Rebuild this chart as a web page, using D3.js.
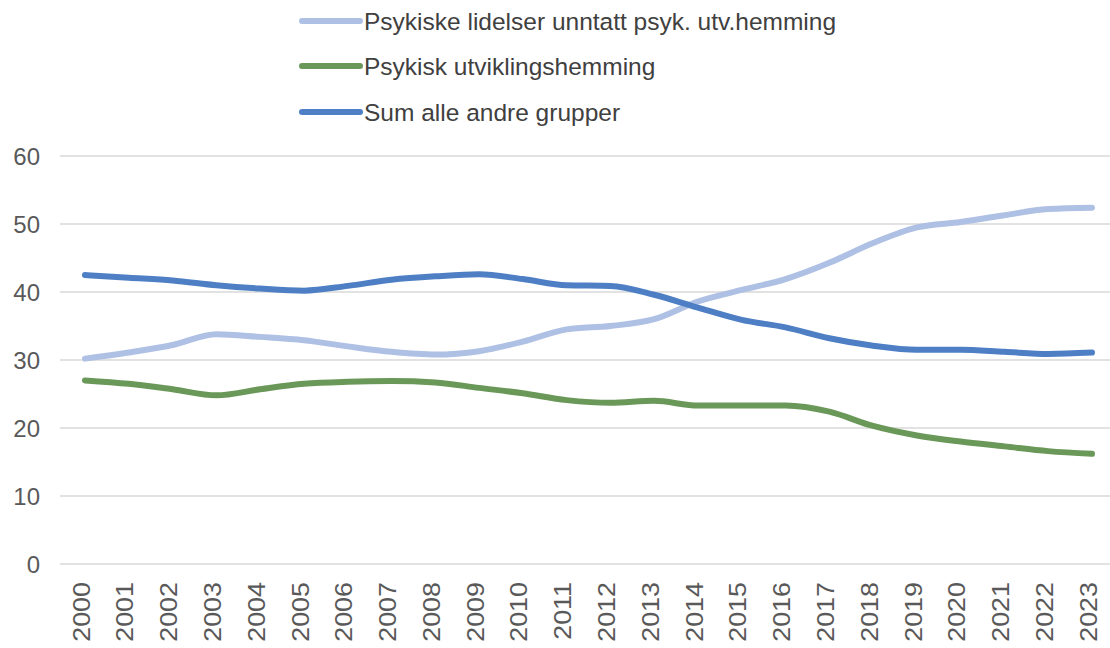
<html>
<head>
<script src="https://d3js.org/d3.v7.min.js"></script>
</head>
<body style="margin:0;background:#fff">
<svg id="chart" width="1110" height="648"></svg>
<style>
  text { font-family: "Liberation Sans", Arial, sans-serif; }
</style>
<script>
// data
const years = d3.range(2000, 2024).map(String);
const psykiske = [30.2, 31.1, 32.2, 33.8, 33.4, 32.9, 32.0, 31.2, 30.8, 31.3, 32.7, 34.5,
                  35.0, 36.0, 38.6, 40.3, 41.9, 44.3, 47.2, 49.5, 50.3, 51.3, 52.2, 52.4];
const utvikling = [27.0, 26.5, 25.7, 24.8, 25.7, 26.5, 26.8, 26.9, 26.7, 25.9, 25.1, 24.1,
                   23.7, 24.0, 23.3, 23.3, 23.3, 22.4, 20.3, 18.9, 18.0, 17.3, 16.6, 16.2];
const andre = [42.5, 42.1, 41.7, 41.0, 40.5, 40.2, 40.9, 41.8, 42.3, 42.6, 41.9, 41.0,
               40.9, 39.6, 37.7, 35.9, 34.8, 33.2, 32.1, 31.5, 31.5, 31.2, 30.9, 31.1];
const seriesNames = ["Psykiske lidelser unntatt psyk. utv.hemming", "Psykisk utviklingshemming", "Sum alle andre grupper"];
const seriesColors = ["#aec0e4", "#6a9858", "#4e7fc4"];
const yTicks = [0, 10, 20, 30, 40, 50, 60];

const svg = d3.select('svg#chart');
const series = [psykiske, utvikling, andre];

let x = d3.scalePoint().domain(years).range([85, 1092]);
let y = d3.scaleLinear().domain([0, 60]).range([564, 156]);

// gridlines
svg.selectAll('line.grid')
   .data(yTicks)
   .join('line')
   .attr('class', 'grid')
   .attr('x1', 60).attr('x2', 1110)
   .attr('y1', d => y(d)).attr('y2', d => y(d))
   .attr('stroke', '#d9d9d9')
   .attr('stroke-width', 1.5);

// y labels
svg.selectAll('text.ylab')
   .data(yTicks)
   .join('text')
   .attr('class', 'ylab')
   .attr('x', 40)
   .attr('y', d => y(d))
   .attr('dy', '0.36em')
   .attr('text-anchor', 'end')
   .attr('font-size', '24px')
   .attr('fill', '#595959')
   .text(d => d);

// x labels, rotated (a bit stretched like the original)
svg.selectAll('text.xlab')
   .data(years)
   .join('text')
   .attr('class', 'xlab')
   .attr('transform', d => `translate(${x(d) - 4},582) rotate(-90) scale(1.12,1)`)
   .attr('dy', '0.36em')
   .attr('text-anchor', 'end')
   .attr('font-size', '24px')
   .attr('fill', '#595959')
   .text(d => d);

// lines
const line = d3.line()
   .x((d, i) => x(years[i]))
   .y(d => y(d))
   .curve(d3.curveMonotoneX);

svg.selectAll('path.series')
   .data(series)
   .join('path')
   .attr('class', 'series')
   .attr('d', d => line(d))
   .attr('fill', 'none')
   .attr('stroke', (d, i) => seriesColors[i])
   .attr('stroke-width', 6)
   .attr('stroke-linecap', 'round');

// legend
const legendY = [21, 66, 112];
let legend = svg.selectAll('g.legend')
   .data(seriesNames)
   .join('g')
   .attr('class', 'legend')
   .attr('transform', (d, i) => `translate(300,${legendY[i]})`);

legend.append('line')
   .attr('x1', 2).attr('x2', 60)
   .attr('stroke', (d, i) => seriesColors[i])
   .attr('stroke-width', 6)
   .attr('stroke-linecap', 'round');

legend.append('text')
   .attr('x', 64)
   .attr('dy', '0.36em')
   .attr('font-size', '24.5px')
   .attr('fill', '#404040')
   .text(d => d);
</script>
</body>
</html>
